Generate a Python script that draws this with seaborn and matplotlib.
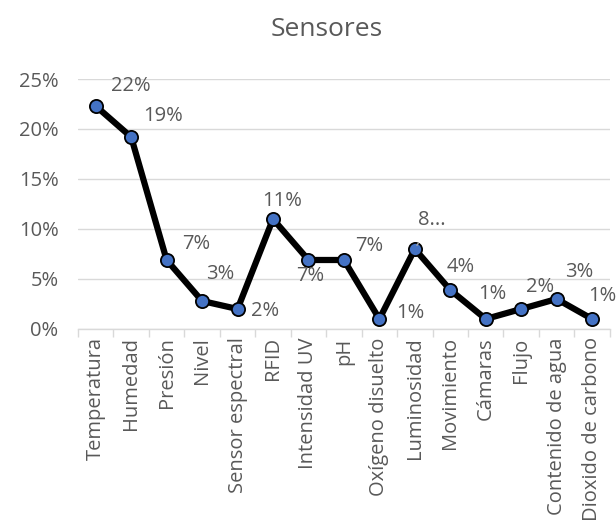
import matplotlib
matplotlib.use("Agg")
import matplotlib.pyplot as plt
import seaborn as sns
from matplotlib.ticker import FixedLocator

# Datos del grafico (porcentaje)
categorias = ['Temperatura', 'Humedad', 'Presión', 'Nivel', 'Sensor espectral',
              'RFID', 'Intensidad UV', 'pH', 'Oxígeno disuelto', 'Luminosidad',
              'Movimiento', 'Cámaras', 'Flujo', 'Contenido de agua', 'Dioxido de carbono']
valores = [22.3, 19.2, 6.9, 2.8, 2.0, 11.0, 6.9, 6.9, 1.0, 8.0, 3.9, 1.0, 2.0, 3.0, 1.0]
etiquetas = ['22%', '19%', '7%', '3%', '2%', '11%', '7%', '7%', '1%', '8...',
             '4%', '1%', '2%', '3%', '1%']

# desplazamiento de cada etiqueta en pixeles (x, y hacia arriba)
offsets = [(35, 20), (32, 21), (30, 16), (18, 27), (28, -2), (9, 18), (2, -16),
           (25, 14), (31, 6), (17, 29), (10, 23), (7, 25), (19, 22), (23, 27), (10, 23)]

gris = '#595959'
sns.set_theme(style='white')
plt.rcParams['font.family'] = ['Open Sans', 'DejaVu Sans']

fig = plt.figure(figsize=(6.16, 5.32), dpi=100)
ax = fig.add_axes([0.1266, 0.3816, 0.8634, 0.4699])

sns.lineplot(x=categorias, y=valores, sort=False, ax=ax, color='black',
             linewidth=4.5, marker='o', markersize=9.5, markerfacecolor='#4472C4',
             markeredgecolor='black', markeredgewidth=1.3)

ax.set_xlim(-0.5, len(categorias) - 0.5)
ax.set_ylim(0, 25)
ax.set_yticks([0, 5, 10, 15, 20, 25])
ax.set_yticklabels([f'{v}%' for v in range(0, 30, 5)])
ax.yaxis.grid(True, color='#D9D9D9', linewidth=1)
ax.set_axisbelow(True)
ax.set_xlabel('')
ax.set_ylabel('')

ax.set_xticks(range(len(categorias)))
ax.set_xticklabels(categorias, rotation=90)
ax.xaxis.set_minor_locator(FixedLocator([i - 0.5 for i in range(len(categorias) + 1)]))
ax.tick_params(axis='x', which='major', length=0, labelsize=14.5, colors=gris, pad=6)
ax.tick_params(axis='x', which='minor', length=6, width=1, color='#D9D9D9', bottom=True)
ax.tick_params(axis='y', length=0, labelsize=14.5, colors=gris, pad=14)

for s in ['top', 'right', 'left']:
    ax.spines[s].set_visible(False)
ax.spines['bottom'].set_color('#D9D9D9')
ax.spines['bottom'].set_linewidth(1)

for i, (val, txt, off) in enumerate(zip(valores, etiquetas, offsets)):
    if txt == '8...':
        ax.annotate(txt, xy=(i, val), xytext=off, textcoords='offset pixels',
                    ha='center', va='center', fontsize=14.5, color=gris,
                    arrowprops=dict(arrowstyle='-', color='#A6A6A6', lw=1,
                                    shrinkA=8, shrinkB=3))
    else:
        ax.annotate(txt, xy=(i, val), xytext=off, textcoords='offset pixels',
                    ha='center', va='center', fontsize=14.5, color=gris)

fig.text(0.53, 1 - 29 / 532, 'Sensores', ha='center', va='center',
         fontsize=19, color=gris)

fig.savefig('out.png', dpi=100)
